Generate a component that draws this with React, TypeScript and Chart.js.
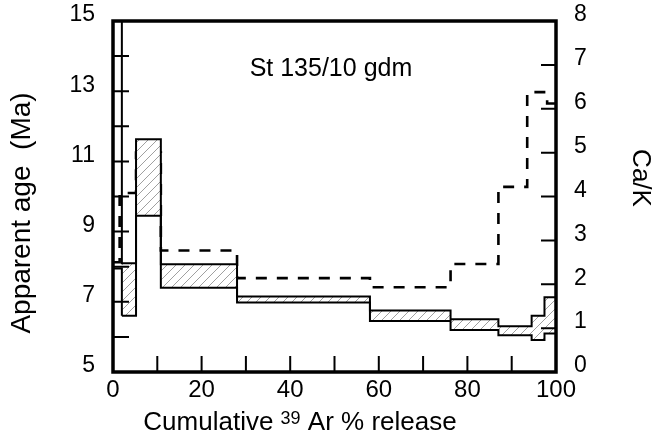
import React, { useEffect, useRef } from 'react';
import { Chart, registerables } from 'chart.js';

Chart.register(...registerables);

// Age spectrum steps (cumulative 39Ar % release boundaries)
const stepEdges = [0, 2.0, 5.2, 10.8, 28.0, 58.0, 76.2, 87.0, 94.5, 97.4, 100];
const ageLow = [7.95, 6.6, 9.45, 7.4, 6.98, 6.45, 6.2, 6.05, 5.91, 6.1];
const ageHigh = [16.0, 8.1, 11.63, 8.07, 7.15, 6.75, 6.5, 6.3, 6.6, 7.13];

// Ca/K step curve
const caKEdges = [0, 1.5, 5.2, 10.8, 28.0, 58.0, 76.2, 87.0, 93.5, 98.0, 100];
const caKValues = [2.5, 4.08, 5.0, 2.77, 2.14, 1.93, 2.46, 4.22, 6.38, 6.12];

// Axis ticks
const xLabelTicks = [0, 20, 40, 60, 80, 100];
const ageLabelTicks = [5, 7, 9, 11, 13, 15];
const caKLabelTicks = [0, 1, 2, 3, 4, 5, 6, 7, 8];

const sampleName = 'St 135/10 gdm';
const yTitle = 'Apparent age  (Ma)';
const y2Title = 'Ca/K';
const xTitleParts = ['Cumulative ', '39', ' Ar % release'];

const FONT = '"Liberation Sans", Arial, Helvetica, sans-serif';

function stepPoints(edges: number[], vals: number[]) {
  const pts = vals.map((v, i) => ({ x: edges[i], y: v }));
  pts.push({ x: edges[edges.length - 1], y: vals[vals.length - 1] });
  return pts;
}

function makeHatch(): CanvasPattern | string {
  const s = 9;
  const c = document.createElement('canvas');
  c.width = s;
  c.height = s;
  const g = c.getContext('2d');
  if (!g) return '#fff';
  g.fillStyle = '#ffffff';
  g.fillRect(0, 0, s, s);
  g.strokeStyle = '#a0a0a0';
  g.lineWidth = 1;
  g.beginPath();
  g.moveTo(-1, s + 1);
  g.lineTo(s + 1, -1);
  g.moveTo(-2, 2);
  g.lineTo(2, -2);
  g.moveTo(s - 2, s + 2);
  g.lineTo(s + 2, s - 2);
  g.stroke();
  return g.createPattern(c, 'repeat') || '#fff';
}

const framePlugin = {
  id: 'framePlugin',
  afterDraw(chart: any) {
    const { ctx, chartArea: a, scales } = chart;
    const sx = scales.x;
    const sy = scales.y;
    const sy2 = scales.y2;
    ctx.save();
    ctx.strokeStyle = '#000';
    ctx.lineWidth = 2;
    ctx.beginPath();
    for (let v = 10; v < 100; v += 10) {
      const px = sx.getPixelForValue(v);
      ctx.moveTo(px, a.bottom);
      ctx.lineTo(px, a.bottom - 16);
    }
    for (let v = 6; v < 15; v += 1) {
      const py = sy.getPixelForValue(v);
      ctx.moveTo(a.left, py);
      ctx.lineTo(a.left + 16, py);
    }
    for (let v = 1; v < 8; v += 1) {
      const py = sy2.getPixelForValue(v);
      ctx.moveTo(a.right, py);
      ctx.lineTo(a.right - 15, py);
    }
    ctx.stroke();
    ctx.lineWidth = 3.5;
    ctx.strokeRect(a.left, a.top, a.right - a.left, a.bottom - a.top);

    ctx.fillStyle = '#000';
    // sample label
    ctx.font = `25px ${FONT}`;
    ctx.textAlign = 'center';
    ctx.textBaseline = 'middle';
    ctx.fillText(sampleName, sx.getPixelForValue(49.2), sy.getPixelForValue(13.63));

    // left title
    ctx.save();
    ctx.translate(22, 213);
    ctx.rotate(-Math.PI / 2);
    ctx.font = `28px ${FONT}`;
    ctx.textAlign = 'center';
    ctx.textBaseline = 'middle';
    ctx.fillText(yTitle, 0, 0);
    ctx.restore();

    // right title
    ctx.save();
    ctx.translate(640, 178);
    ctx.rotate(Math.PI / 2);
    ctx.font = `26px ${FONT}`;
    ctx.textAlign = 'center';
    ctx.textBaseline = 'middle';
    ctx.fillText(y2Title, 0, 0);
    ctx.restore();

    // bottom title with superscript
    const big = `26px ${FONT}`;
    const small = `18px ${FONT}`;
    ctx.textAlign = 'left';
    ctx.textBaseline = 'alphabetic';
    ctx.font = big;
    const w0 = ctx.measureText(xTitleParts[0]).width;
    const w2 = ctx.measureText(xTitleParts[2]).width;
    ctx.font = small;
    const w1 = ctx.measureText(xTitleParts[1]).width;
    const total = w0 + w1 + w2;
    let x = 300 - total / 2;
    const base = 430;
    ctx.font = big;
    ctx.fillText(xTitleParts[0], x, base);
    x += w0;
    ctx.font = small;
    ctx.fillText(xTitleParts[1], x, base - 6);
    x += w1;
    ctx.font = big;
    ctx.fillText(xTitleParts[2], x, base);
    ctx.restore();
  },
};

export default function App() {
  const ref = useRef<HTMLCanvasElement | null>(null);

  useEffect(() => {
    if (!ref.current) return;
    const hatch = makeHatch();
    const chart = new Chart(ref.current, {
      type: 'line',
      data: {
        datasets: [
          {
            label: 'Ca/K',
            data: stepPoints(caKEdges, caKValues),
            yAxisID: 'y2',
            stepped: true,
            borderColor: '#000',
            borderWidth: 2.6,
            borderDash: [11, 10],
            pointRadius: 0,
            fill: false,
            order: 3,
          },
          {
            label: 'age low',
            data: stepPoints(stepEdges, ageLow),
            yAxisID: 'y',
            stepped: true,
            borderColor: '#000',
            borderWidth: 2,
            pointRadius: 0,
            backgroundColor: hatch as any,
            fill: '+1',
            segment: {
              backgroundColor: (c: any) => (c.p0DataIndex === 0 ? 'rgba(0,0,0,0)' : undefined),
            },
            order: 2,
          },
          {
            label: 'age high',
            data: stepPoints(stepEdges, ageHigh),
            yAxisID: 'y',
            stepped: true,
            borderColor: '#000',
            borderWidth: 2,
            pointRadius: 0,
            fill: false,
            order: 1,
          },
        ],
      },
      options: {
        responsive: false,
        animation: false,
        events: [],
        layout: { padding: { top: 21, left: 0, right: 0, bottom: 0 } },
        plugins: {
          legend: { display: false },
          tooltip: { enabled: false },
          title: { display: false },
        },
        scales: {
          x: {
            type: 'linear',
            position: 'bottom',
            min: 0,
            max: 100,
            afterFit: (s: any) => {
              s.height = 71;
              s.paddingLeft = 0;
              s.paddingRight = 0;
            },
            afterBuildTicks: (s: any) => {
              s.ticks = xLabelTicks.map((v) => ({ value: v }));
            },
            grid: { display: false, drawTicks: false },
            border: { display: false },
            ticks: {
              color: '#000',
              padding: 4,
              maxRotation: 0,
              font: { family: FONT, size: 24 },
              callback: (v: any) => String(v),
            },
          },
          y: {
            type: 'linear',
            position: 'left',
            min: 5,
            max: 15,
            afterFit: (s: any) => {
              s.width = 113;
              s.paddingTop = 0;
              s.paddingBottom = 0;
            },
            afterBuildTicks: (s: any) => {
              s.ticks = ageLabelTicks.map((v) => ({ value: v }));
            },
            grid: { display: false, drawTicks: false },
            border: { display: false },
            ticks: {
              color: '#000',
              padding: 18,
              labelOffset: -6,
              font: { family: FONT, size: 23 },
              callback: (v: any) => String(v),
            },
          },
          y2: {
            type: 'linear',
            position: 'right',
            min: 0,
            max: 8,
            afterFit: (s: any) => {
              s.width = 103;
              s.paddingTop = 0;
              s.paddingBottom = 0;
            },
            afterBuildTicks: (s: any) => {
              s.ticks = caKLabelTicks.map((v) => ({ value: v }));
            },
            grid: { display: false, drawTicks: false },
            border: { display: false },
            ticks: {
              color: '#000',
              padding: 18,
              labelOffset: -6,
              font: { family: FONT, size: 23 },
              callback: (v: any) => String(v),
            },
          },
        },
      },
      plugins: [framePlugin],
    });
    return () => chart.destroy();
  }, []);

  return (
    <div style={{ position: 'fixed', left: 0, top: 0, width: 659, height: 443, background: '#fff' }}>
      <canvas ref={ref} width={659} height={443} style={{ display: 'block' }} />
    </div>
  );
}
